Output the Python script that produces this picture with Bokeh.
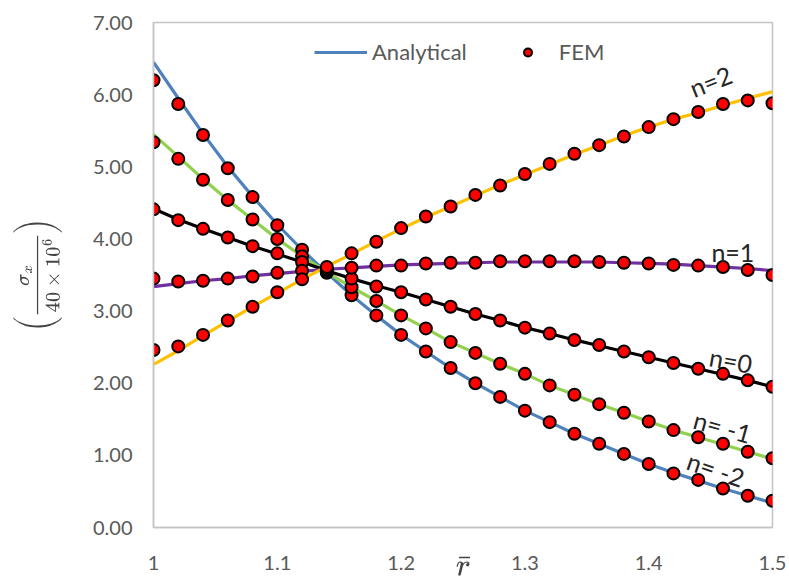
from bokeh.plotting import figure
from bokeh.models import (ColumnDataSource, Legend, LegendItem, FixedTicker,
                          NumeralTickFormatter, Range1d)
from bokeh.embed import file_html
from bokeh.resources import INLINE
from bokeh.core.properties import value

# Normalised radius r/a
r_bar = [1.00, 1.02, 1.04, 1.06, 1.08, 1.10, 1.12, 1.14, 1.16, 1.18, 1.20, 1.22, 1.24,
         1.26, 1.28, 1.30, 1.32, 1.34, 1.36, 1.38, 1.40, 1.42, 1.44, 1.46, 1.48, 1.50]

# Analytical sigma_x / (40e6) for each grading exponent n
ana_n_m2 = [6.45, 5.95, 5.46, 5.00, 4.59, 4.20, 3.85, 3.53, 3.22, 2.94, 2.67, 2.44, 2.21,
            2.00, 1.81, 1.62, 1.46, 1.30, 1.16, 1.02, 0.88, 0.76, 0.65, 0.54, 0.44, 0.34]
ana_n_m1 = [5.45, 5.14, 4.83, 4.54, 4.27, 4.00, 3.76, 3.54, 3.33, 3.14, 2.94, 2.76, 2.57,
            2.42, 2.27, 2.13, 1.97, 1.84, 1.71, 1.59, 1.47, 1.35, 1.25, 1.15, 1.05, 0.95]
ana_n_0 = [4.42, 4.27, 4.14, 4.02, 3.90, 3.79, 3.68, 3.56, 3.45, 3.35, 3.26, 3.16, 3.06,
           2.96, 2.87, 2.77, 2.69, 2.60, 2.52, 2.44, 2.36, 2.28, 2.20, 2.12, 2.04, 1.95]
ana_n_1 = [3.34, 3.38, 3.42, 3.45, 3.49, 3.52, 3.55, 3.58, 3.60, 3.62, 3.64, 3.65, 3.66,
           3.67, 3.68, 3.68, 3.68, 3.68, 3.68, 3.67, 3.66, 3.65, 3.63, 3.61, 3.59, 3.56]
ana_n_2 = [2.26, 2.45, 2.66, 2.86, 3.06, 3.25, 3.44, 3.62, 3.79, 3.97, 4.14, 4.30, 4.45,
           4.60, 4.75, 4.89, 5.03, 5.17, 5.30, 5.43, 5.55, 5.66, 5.75, 5.85, 5.95, 6.04]

# FEM results at the same radii
fem_n_m2 = [6.20, 5.87, 5.44, 4.98, 4.58, 4.19, 3.85, 3.53, 3.22, 2.94, 2.67, 2.44, 2.21,
            2.00, 1.81, 1.62, 1.46, 1.30, 1.16, 1.02, 0.88, 0.75, 0.66, 0.54, 0.44, 0.37]
fem_n_m1 = [5.34, 5.11, 4.82, 4.54, 4.27, 4.00, 3.76, 3.54, 3.33, 3.14, 2.94, 2.76, 2.57,
            2.42, 2.27, 2.13, 1.97, 1.84, 1.71, 1.59, 1.47, 1.35, 1.25, 1.16, 1.05, 0.96]
fem_n_0 = [4.41, 4.26, 4.14, 4.02, 3.90, 3.80, 3.68, 3.56, 3.45, 3.34, 3.26, 3.16, 3.06,
           2.96, 2.87, 2.77, 2.69, 2.60, 2.53, 2.44, 2.36, 2.28, 2.20, 2.13, 2.04, 1.95]
fem_n_1 = [3.45, 3.41, 3.42, 3.45, 3.48, 3.53, 3.56, 3.58, 3.60, 3.63, 3.63, 3.66, 3.67,
           3.67, 3.69, 3.69, 3.69, 3.69, 3.68, 3.67, 3.66, 3.64, 3.63, 3.61, 3.57, 3.50]
fem_n_2 = [2.46, 2.51, 2.67, 2.87, 3.06, 3.26, 3.44, 3.61, 3.80, 3.96, 4.15, 4.31, 4.45,
           4.61, 4.74, 4.90, 5.04, 5.18, 5.30, 5.42, 5.55, 5.66, 5.76, 5.87, 5.92, 5.88]

curve_labels = ["n=2", "n=1", "n=0", "n= -1", "n= -2"]

x_ticks = [1.0, 1.1, 1.2, 1.3, 1.4, 1.5]
y_ticks = [0, 1, 2, 3, 4, 5, 6, 7]

FONT = "Lato"
GRAY = "#595959"
FRAME = "#c4c4c4"

p = figure(width=789, height=585, output_backend="svg", toolbar_location=None,
           x_range=Range1d(1.0, 1.5), y_range=Range1d(0, 7),
           min_border_left=153, min_border_right=17, min_border_top=22,
           min_border_bottom=58)
p.background_fill_color = "white"
p.border_fill_color = "white"
p.outline_line_color = FRAME
p.outline_line_width = 1.5
p.xgrid.visible = False
p.ygrid.visible = False

series = [
    (ana_n_m2, fem_n_m2, "#4f81bd"),
    (ana_n_m1, fem_n_m1, "#92d050"),
    (ana_n_0, fem_n_0, "#000000"),
    (ana_n_1, fem_n_1, "#7030a0"),
    (ana_n_2, fem_n_2, "#ffc000"),
]

line_renderers = []
for ana, _, col in series:
    r = p.line(r_bar, ana, line_color=col, line_width=3.2)
    line_renderers.append(r)

fem_renderers = []
for _, fem, _ in series:
    r = p.scatter(r_bar, fem, marker="circle", size=12, fill_color="#ff0000",
                  line_color="#000000", line_width=2)
    fem_renderers.append(r)

# Curve labels next to the right end of each curve
lab_src = ColumnDataSource(dict(
    x=[1.450, 1.468, 1.4664, 1.4597, 1.4543],
    y=[6.19, 3.82, 2.32, 1.40, 0.81],
    text=curve_labels,
    angle=[0.38, 0.0, -0.18, -0.27, -0.33],
))
p.text(x="x", y="y", text="text", angle="angle", source=lab_src,
       text_font=value(FONT), text_font_size="25px", text_color="#262626",
       text_align="center", text_baseline="middle")

legend = Legend(items=[LegendItem(label="Analytical", renderers=[line_renderers[0]]),
                       LegendItem(label="FEM", renderers=[fem_renderers[0]])],
                orientation="horizontal", location=(161, 462),
                border_line_color=None, background_fill_alpha=0,
                label_text_font=FONT, label_text_font_size="22px",
                label_text_color=GRAY, glyph_width=53, glyph_height=20,
                spacing=34, label_standoff=5, padding=0, margin=0)
p.add_layout(legend, "center")

# Axes
for ax in (p.xaxis[0], p.yaxis[0]):
    ax.axis_line_color = FRAME
    ax.axis_line_width = 1.5
    ax.major_tick_line_color = None
    ax.minor_tick_line_color = None
    ax.major_tick_out = 0
    ax.major_tick_in = 0
    ax.major_label_text_font = FONT
    ax.major_label_text_font_size = "20px"
    ax.major_label_text_color = GRAY

p.xaxis.ticker = FixedTicker(ticks=x_ticks)
p.xaxis.formatter = NumeralTickFormatter(format="0.[0]")
p.xaxis.major_label_standoff = 28
p.xaxis.axis_label = r"$$\bar{r}$$"
p.xaxis.axis_label_text_font_size = "25px"
p.xaxis.axis_label_standoff = -19

p.yaxis.ticker = FixedTicker(ticks=y_ticks)
p.yaxis.formatter = NumeralTickFormatter(format="0.00")
p.yaxis.major_label_standoff = 21
p.yaxis.axis_label = r"$$\displaystyle\left(\frac{\sigma_x}{40\times10^6}\right)$$"
p.yaxis.axis_label_text_font_size = "16px"
p.yaxis.axis_label_standoff = 28

open("out.html", "w").write(file_html(p, INLINE))
